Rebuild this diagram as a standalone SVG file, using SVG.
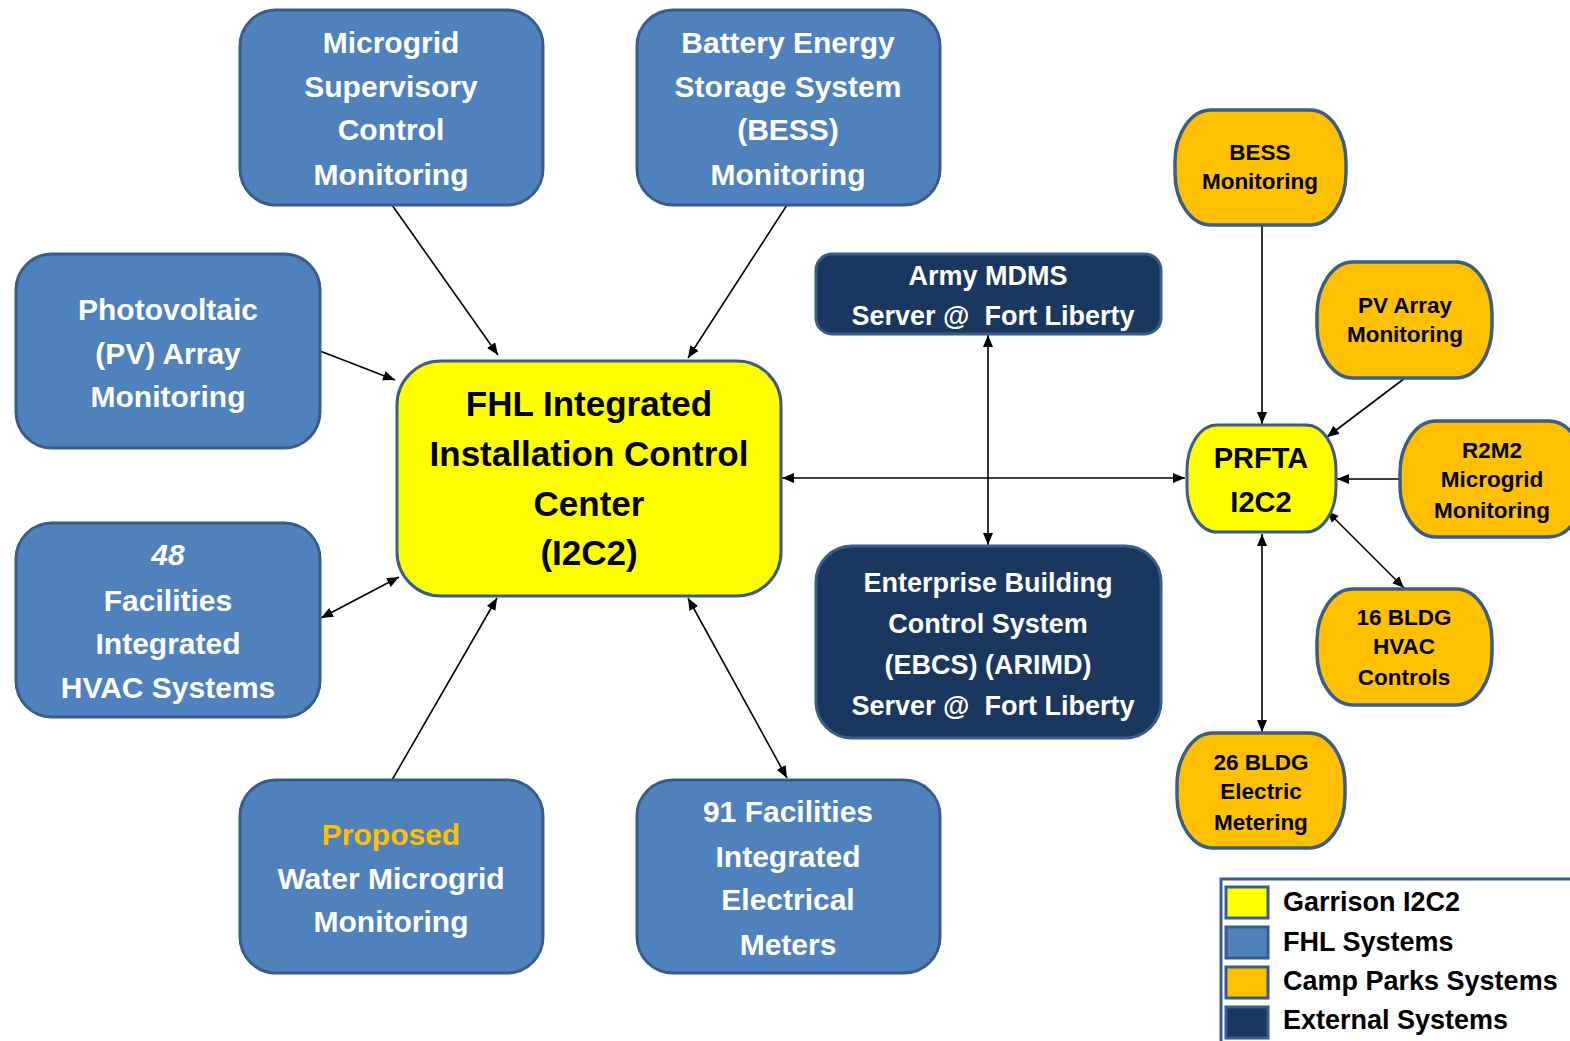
<svg xmlns="http://www.w3.org/2000/svg" width="1570" height="1041" viewBox="0 0 1570 1041">
<defs>
<marker id="ah" viewBox="0 0 12 10" refX="12" refY="5" markerWidth="12" markerHeight="10" markerUnits="userSpaceOnUse" orient="auto-start-reverse">
<path d="M0,0 L12,5 L0,10 z" fill="#000"/>
</marker>
</defs>
<style>
.blue{fill:#4F81BD;stroke:#385D8A;stroke-width:3}
.navy{fill:#1A3760;stroke:#385D8A;stroke-width:3}
.yel{fill:#FFFF00;stroke:#385D8A;stroke-width:3}
.org{fill:#FFC000;stroke:#385D8A;stroke-width:3.5}
text{font-family:"Liberation Sans",Arial,sans-serif;font-weight:bold;text-anchor:middle}
.w{fill:#fff;font-size:30px}
.wn{fill:#fff;font-size:27px}
.k{fill:#000;font-size:35px}
.ko{fill:#000;font-size:22.5px}
.kp{fill:#000;font-size:29px}
.lg{fill:#000;font-size:27px;text-anchor:start}
.c{stroke:#000;stroke-width:1.6;fill:none}
</style>
<rect width="1570" height="1041" fill="#fff"/>

<g id="connectors">
<line class="c" x1="392" y1="205" x2="498" y2="355" marker-end="url(#ah)"/>
<line class="c" x1="787" y1="205" x2="688" y2="358" marker-end="url(#ah)"/>
<line class="c" x1="320" y1="351" x2="395" y2="380" marker-end="url(#ah)"/>
<line class="c" x1="321" y1="618" x2="399" y2="577" marker-start="url(#ah)" marker-end="url(#ah)"/>
<line class="c" x1="392" y1="780" x2="497" y2="598" marker-end="url(#ah)"/>
<line class="c" x1="688" y1="598" x2="787" y2="778" marker-start="url(#ah)" marker-end="url(#ah)"/>
<line class="c" x1="782" y1="478" x2="1185" y2="478" marker-start="url(#ah)" marker-end="url(#ah)"/>
<line class="c" x1="988" y1="335" x2="988" y2="545" marker-start="url(#ah)" marker-end="url(#ah)"/>
<line class="c" x1="1262" y1="225" x2="1262" y2="424" marker-end="url(#ah)"/>
<line class="c" x1="1405" y1="378" x2="1327" y2="437" marker-end="url(#ah)"/>
<line class="c" x1="1400" y1="479" x2="1337" y2="479" marker-end="url(#ah)"/>
<line class="c" x1="1327" y1="511" x2="1404" y2="588" marker-start="url(#ah)" marker-end="url(#ah)"/>
<line class="c" x1="1262" y1="534" x2="1262" y2="732" marker-start="url(#ah)" marker-end="url(#ah)"/>
</g>

<g id="microgrid-supervisory">
<rect class="blue" x="240" y="10" width="303" height="195" rx="36"/>
<text class="w" x="391" y="53">Microgrid</text>
<text class="w" x="391" y="97">Supervisory</text>
<text class="w" x="391" y="140">Control</text>
<text class="w" x="391" y="185">Monitoring</text>
</g>

<g id="bess-top">
<rect class="blue" x="637" y="10" width="303" height="195" rx="36"/>
<text class="w" x="788" y="53">Battery Energy</text>
<text class="w" x="788" y="97">Storage System</text>
<text class="w" x="788" y="140">(BESS)</text>
<text class="w" x="788" y="185">Monitoring</text>
</g>

<g id="pv-left">
<rect class="blue" x="16" y="254" width="304" height="194" rx="36"/>
<text class="w" x="168" y="320">Photovoltaic</text>
<text class="w" x="168" y="364">(PV) Array</text>
<text class="w" x="168" y="407">Monitoring</text>
</g>

<g id="hvac-48">
<rect class="blue" x="16" y="523" width="304" height="194" rx="36"/>
<text class="w" x="168" y="565" font-style="italic">48</text>
<text class="w" x="168" y="611">Facilities</text>
<text class="w" x="168" y="654">Integrated</text>
<text class="w" x="168" y="698">HVAC Systems</text>
</g>

<g id="fhl-i2c2">
<rect class="yel" x="397" y="361" width="384" height="235" rx="44"/>
<text class="k" x="589" y="416">FHL Integrated</text>
<text class="k" x="589" y="466">Installation Control</text>
<text class="k" x="589" y="516">Center</text>
<text class="k" x="589" y="565">(I2C2)</text>
</g>

<g id="water-microgrid">
<rect class="blue" x="240" y="780" width="303" height="193" rx="36"/>
<text class="w" x="391" y="845" style="fill:#FFC000">Proposed</text>
<text class="w" x="391" y="889">Water Microgrid</text>
<text class="w" x="391" y="932">Monitoring</text>
</g>

<g id="meters-91">
<rect class="blue" x="637" y="780" width="303" height="193" rx="36"/>
<text class="w" x="788" y="822">91 Facilities</text>
<text class="w" x="788" y="867">Integrated</text>
<text class="w" x="788" y="910">Electrical</text>
<text class="w" x="788" y="955">Meters</text>
</g>

<g id="army-mdms">
<rect class="navy" x="816" y="254" width="345" height="80" rx="16"/>
<text class="wn" x="988" y="285">Army MDMS</text>
<text class="wn" x="993" y="325" xml:space="preserve">Server @  Fort Liberty</text>
</g>

<g id="ebcs">
<rect class="navy" x="816" y="546" width="345" height="192" rx="36"/>
<text class="wn" x="988" y="592">Enterprise Building</text>
<text class="wn" x="988" y="633">Control System</text>
<text class="wn" x="988" y="674">(EBCS) (ARIMD)</text>
<text class="wn" x="993" y="715" xml:space="preserve">Server @  Fort Liberty</text>
</g>

<g id="bess-monitoring">
<rect class="org" x="1175" y="110" width="171" height="115" rx="36" ry="52"/>
<text class="ko" x="1260" y="160">BESS</text>
<text class="ko" x="1260" y="189">Monitoring</text>
</g>

<g id="pv-monitoring">
<rect class="org" x="1317" y="262" width="175" height="116" rx="36" ry="52"/>
<text class="ko" x="1405" y="313">PV Array</text>
<text class="ko" x="1405" y="342">Monitoring</text>
</g>

<g id="prfta">
<rect class="yel" x="1187" y="425" width="149" height="107" rx="30" ry="45"/>
<text class="kp" x="1261" y="468">PRFTA</text>
<text class="kp" x="1261" y="512">I2C2</text>
</g>

<g id="r2m2">
<rect class="org" x="1400" y="421" width="185" height="116" rx="36" ry="52"/>
<text class="ko" x="1492" y="458">R2M2</text>
<text class="ko" x="1492" y="487">Microgrid</text>
<text class="ko" x="1492" y="518">Monitoring</text>
</g>

<g id="hvac-16">
<rect class="org" x="1317" y="589" width="175" height="116" rx="36" ry="52"/>
<text class="ko" x="1404" y="625">16 BLDG</text>
<text class="ko" x="1404" y="654">HVAC</text>
<text class="ko" x="1404" y="685">Controls</text>
</g>

<g id="metering-26">
<rect class="org" x="1177" y="733" width="168" height="115" rx="36" ry="52"/>
<text class="ko" x="1261" y="770">26 BLDG</text>
<text class="ko" x="1261" y="799">Electric</text>
<text class="ko" x="1261" y="830">Metering</text>
</g>

<g id="legend">
<rect x="1221" y="879" width="360" height="170" fill="#fff" stroke="#385D8A" stroke-width="3"/>
<rect x="1226" y="887" width="42" height="31" fill="#FFFF00" stroke="#385D8A" stroke-width="3"/>
<rect x="1226" y="927" width="42" height="31" fill="#4F81BD" stroke="#385D8A" stroke-width="3"/>
<rect x="1226" y="967" width="42" height="31" fill="#FFC000" stroke="#385D8A" stroke-width="3"/>
<rect x="1226" y="1007" width="42" height="31" fill="#1A3760" stroke="#385D8A" stroke-width="3"/>
<text class="lg" x="1283" y="911">Garrison I2C2</text>
<text class="lg" x="1283" y="951">FHL Systems</text>
<text class="lg" x="1283" y="990">Camp Parks Systems</text>
<text class="lg" x="1283" y="1029">External Systems</text>
</g>
</svg>
